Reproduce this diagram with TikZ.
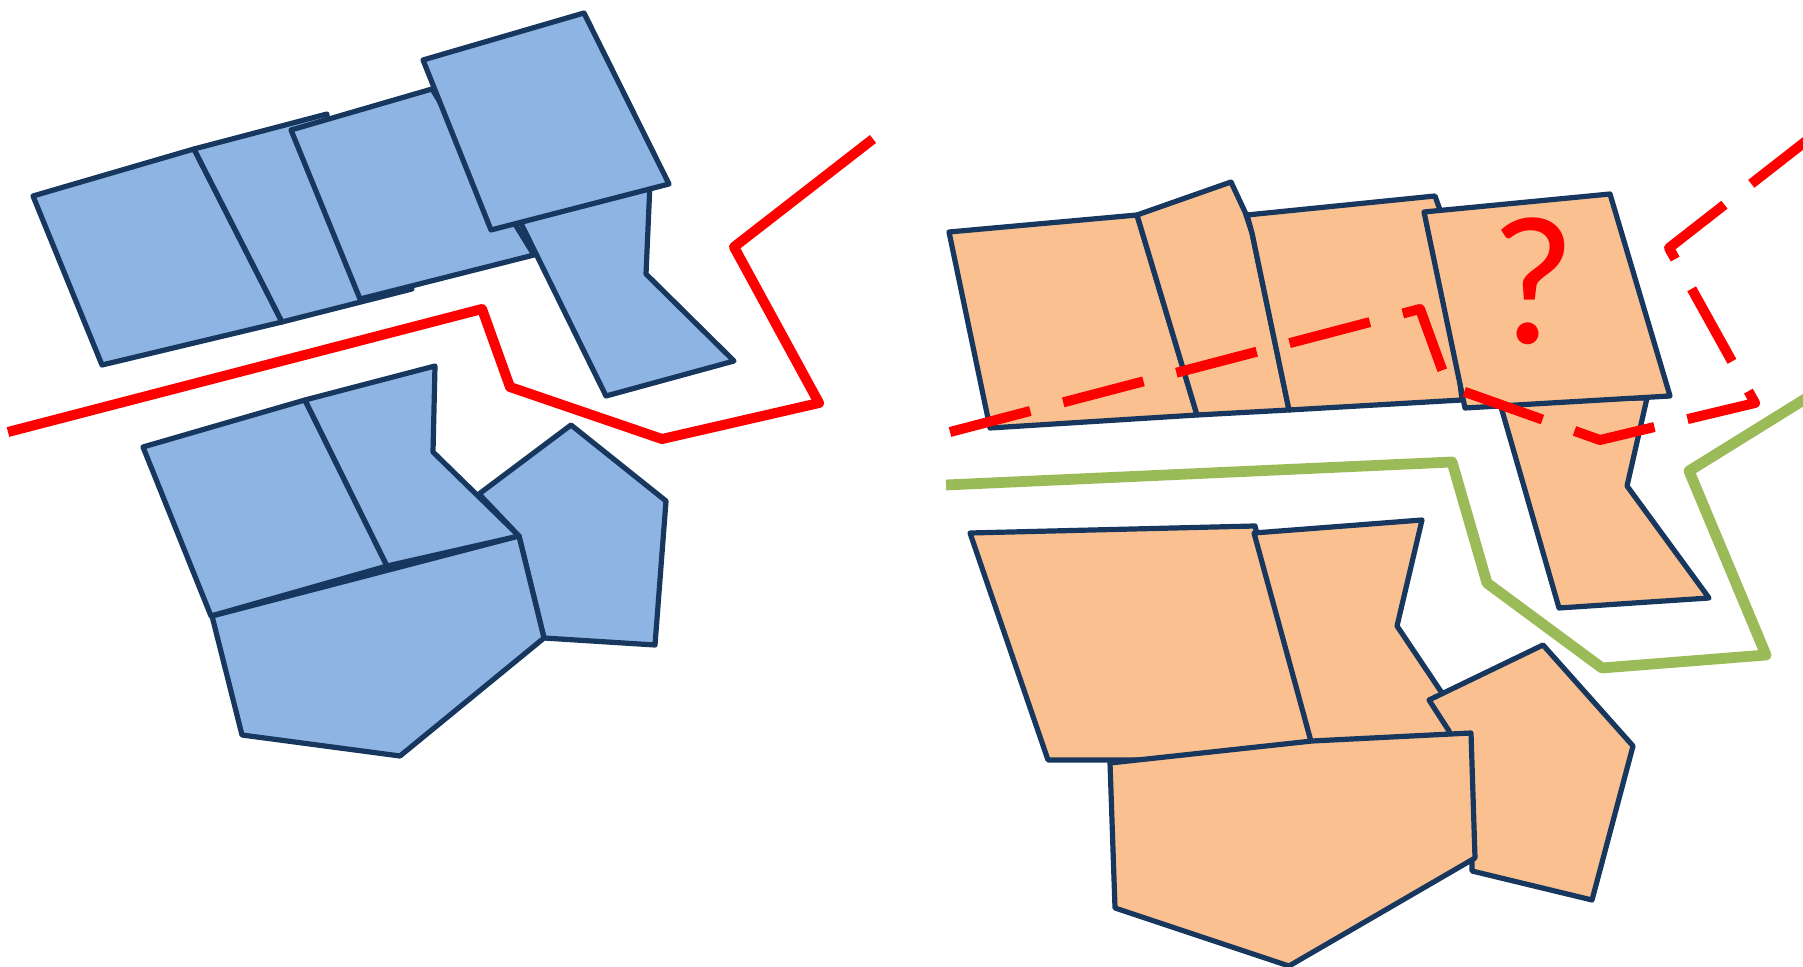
\documentclass[tikz,border=0pt]{standalone}
\usepackage{fontspec}
\newfontfamily\qfont{Carlito}
\definecolor{bluefill}{HTML}{8EB4E3}
\definecolor{orangefill}{HTML}{FAC090}
\definecolor{outl}{HTML}{17375E}
\definecolor{redc}{HTML}{FF0000}
\definecolor{greenc}{HTML}{9BBB59}
\begin{document}
\begin{tikzpicture}[x=0.5pt,y=-0.5pt,
  blk/.style={fill=bluefill,draw=outl,line width=2.6pt,line join=round},
  org/.style={fill=orangefill,draw=outl,line width=2.6pt,line join=round},
  redline/.style={draw=redc,line width=5pt,line join=round},
  reddash/.style={redline,dash pattern=on 41.5pt off 17pt},
  greenline/.style={draw=greenc,line width=5.4pt,line join=round}]
\useasboundingbox (0,0) rectangle (1803,967);

% ---------- left (blue) ----------
\draw[blk] (33,196) -- (194,149) -- (282,322) -- (102,365) -- cycle;
\draw[blk] (194,149) -- (327,114) -- (327,118) -- (412,289) -- (282,322) -- cycle;
\draw[blk] (291,130) -- (432,89) -- (534,255) -- (360,299) -- cycle;
\draw[blk] (512,205) -- (650,183) -- (646,274) -- (734,361) -- (606,396) -- cycle;
\draw[blk] (423,60) -- (584,13) -- (669,184) -- (491,230) -- cycle;

\draw[blk] (143,447) -- (305,400) -- (387,566) -- (211,616) -- cycle;
\draw[blk] (305,400) -- (435,366) -- (433,452) -- (519,536) -- (387,566) -- cycle;
\draw[blk] (571,425) -- (666,501) -- (655,645) -- (544,638) -- (519,536) -- (479,494) -- cycle;
\draw[blk] (212,616) -- (519,536) -- (544,638) -- (400,756) -- (242,735) -- cycle;

\draw[redline] (8,432) -- (482,309) -- (510,387) -- (662,439) -- (819,403) -- (734,247) -- (873,139);

% ---------- right (orange) ----------
\draw[org] (949,232) -- (1137,215) -- (1197,415) -- (990,428) -- cycle;
\draw[org] (1137,215) -- (1231,182) -- (1245,212) -- (1252,233) -- (1289,410) -- (1197,415) -- cycle;
\draw[org] (1247,215) -- (1435,196) -- (1440,210) -- (1462,400) -- (1289,410) -- (1252,233) -- cycle;
\draw[org] (1499,400) -- (1647,398) -- (1627,486) -- (1709,598) -- (1559,608) -- cycle;
\draw[org] (1424,212) -- (1610,194) -- (1670,396) -- (1465,408) -- cycle;
\node[text=redc,inner sep=0pt,font={\qfont\fontsize{92}{92}\selectfont}] (q) at (1533,281) {?};

\draw[org] (970,533) -- (1255,526) -- (1312,745) -- (1300,760) -- (1048,760) -- cycle;
\draw[org] (1254,533) -- (1422,520) -- (1397,626) -- (1450,705) -- (1460,735) -- (1312,745) -- cycle;
\draw[org] (1429,700) -- (1543,645) -- (1633,746) -- (1592,900) -- (1472,871) -- (1472,800) -- (1449,731) -- cycle;
\draw[org] (1110,763) -- (1312,741) -- (1471,733) -- (1475,858) -- (1289,966) -- (1115,908) -- cycle;

\draw[reddash] (950,432) -- (1420,309) -- (1448,386) -- (1600,440) -- (1755,403) -- (1669,248) -- (1810,138);
\draw[greenline] (946,485) -- (1452,462) -- (1487,583) -- (1602,668) -- (1766,655) -- (1689,471) -- (1810,396);
\end{tikzpicture}
\end{document}
